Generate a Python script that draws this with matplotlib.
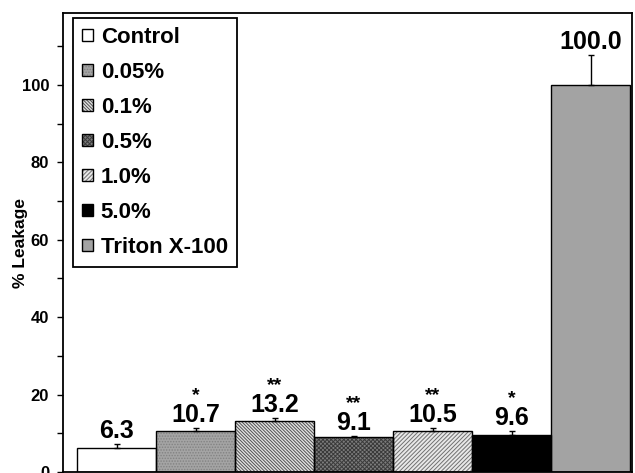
import numpy as np
import matplotlib.pyplot as plt
from matplotlib.patches import Patch
from matplotlib.legend_handler import HandlerTuple

plt.rcParams['font.family'] = ['Liberation Sans', 'DejaVu Sans']
plt.rcParams['font.weight'] = 'bold'
plt.rcParams['hatch.linewidth'] = 0.7

groups = ['Control', '0.05%', '0.1%', '0.5%', '1.0%', '5.0%', 'Triton X-100']
leakage = [6.3, 10.7, 13.2, 9.1, 10.5, 9.6, 100.0]
errors = [0.9, 0.7, 0.8, 0.2, 0.9, 1.0, 7.8]
stars = ['', '*', '**', '**', '**', '*', '']

# fill colour, hatch, hatch colour
styles = [
    ('white', '', 'black'),
    ('#a4a4a4', '......', '#828282'),
    ('#e2e2e2', '\\' * 10, '#505050'),
    ('#7c7c7c', 'x' * 8, '#3a3a3a'),
    ('#e8e8e8', '/' * 8, '#707070'),
    ('black', '', 'black'),
    ('#a3a3a3', '', 'black'),
]

fig = plt.figure(figsize=(6.35, 4.73), dpi=100)
ax = fig.add_axes([63/635, 1/473, 569/635, 459/473])

x = np.arange(len(groups))
handles = []
for i, (fc, hatch, hc) in enumerate(styles):
    ax.bar(x[i], leakage[i], width=1.0, color=fc, edgecolor=hc, hatch=hatch,
           linewidth=0, zorder=2)
    ax.bar(x[i], leakage[i], width=1.0, fill=False, edgecolor='black',
           linewidth=1.0, zorder=3)
    h1 = Patch(facecolor=fc, edgecolor=hc, hatch=hatch, linewidth=0)
    h2 = Patch(fill=False, edgecolor='black', linewidth=1.0)
    handles.append((h1, h2))

ax.errorbar(x, leakage, yerr=[np.zeros(len(x)), errors], fmt='none',
            ecolor='black', elinewidth=1.0, capsize=2, capthick=1.0, zorder=4)

for i in range(len(x)):
    top = leakage[i] + errors[i]
    ax.annotate(f'{leakage[i]:.1f}', (x[i], top), xytext=(0, 4.5),
                textcoords='offset points', ha='center', va='baseline',
                fontsize=18, fontweight='bold')
    if stars[i]:
        ax.annotate(stars[i], (x[i], top), xytext=(0, 20),
                    textcoords='offset points', ha='center', va='baseline',
                    fontsize=14, fontweight='bold')

ax.set_xlim(-0.677, 6.52)
ax.set_ylim(0, 118.6)
ax.set_xticks([])
ax.set_yticks(np.arange(0, 101, 20))
ax.set_yticks(np.arange(10, 111, 20), minor=True)
ax.tick_params(axis='y', which='both', direction='out', length=4, width=1,
               labelsize=12, pad=6)
for s in ax.spines.values():
    s.set_linewidth(1.3)

ax.set_ylabel('% Leakage', fontsize=12.5, fontweight='bold')
ax.yaxis.set_label_coords(-0.061, 0.5)

leg = ax.legend(handles, groups, handler_map={tuple: HandlerTuple(ndivide=1)},
                loc='upper left', bbox_to_anchor=(0.0176, 0.989),
                borderaxespad=0, fontsize=16, handlelength=0.5,
                handleheight=0.5, handletextpad=0.35, labelspacing=0.63,
                borderpad=0.4, fancybox=False, framealpha=1,
                edgecolor='black')
leg.get_frame().set_linewidth(1.3)

fig.savefig('out.png', dpi=100)
